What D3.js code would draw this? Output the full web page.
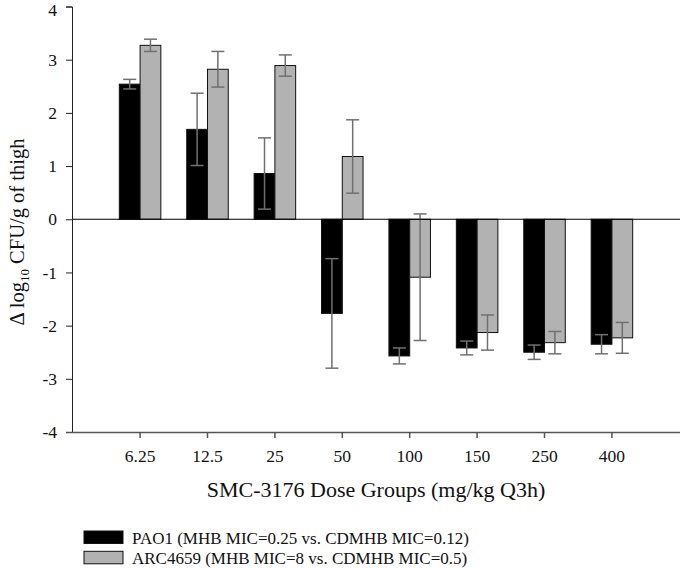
<!DOCTYPE html>
<html><head><meta charset="utf-8">
<script src="https://cdn.jsdelivr.net/npm/d3@7"></script>
<style>body{margin:0;background:#fff}svg{display:block}text{font-family:"Liberation Serif","Times New Roman",serif}</style>
</head><body><svg id="c" width="680" height="568"></svg>
<script>
const categories = ["6.25","12.5","25","50","100","150","250","400"];
const seriesNames = ["PAO1 (MHB MIC=0.25 vs. CDMHB MIC=0.12)","ARC4659 (MHB MIC=8 vs. CDMHB MIC=0.5)"];
const pao1 = [2.54, 1.69, 0.86, -1.77, -2.57, -2.42, -2.50, -2.35];
const pao1Err = [0.09, 0.68, 0.67, 1.03, 0.15, 0.13, 0.135, 0.18];
const arc = [3.27, 2.82, 2.89, 1.18, -1.09, -2.13, -2.32, -2.23];
const arcErr = [0.115, 0.335, 0.20, 0.69, 1.19, 0.33, 0.21, 0.29];
const yTicks = [-4,-3,-2,-1,0,1,2,3,4];
const colors = ["#000000","#b2b2b2"];

const svg = d3.select("#c");
const x = d3.scaleBand().domain(categories).range([72,680]).paddingInner(0.384).paddingOuter(0.702);
const xs = d3.scaleBand().domain([0,1]).range([0,x.bandwidth()]);
const y = d3.scaleLinear().domain([-4,4]).range([432,6.5]);

const series = [{v:pao1,e:pao1Err},{v:arc,e:arcErr}];
series.forEach((s,si)=>{
  const g = svg.append("g");
  g.selectAll("rect").data(categories).join("rect")
    .attr("x",(c)=>x(c)+xs(si))
    .attr("width",xs.bandwidth())
    .attr("y",(c,i)=>y(Math.max(0,s.v[i])))
    .attr("height",(c,i)=>Math.abs(y(s.v[i])-y(0)))
    .attr("fill",colors[si]).attr("stroke","#111").attr("stroke-width",1);
});
series.forEach((s,si)=>{
  const g = svg.append("g").attr("stroke","#707070").attr("stroke-width",1.5).attr("fill","none");
  categories.forEach((c,i)=>{
    const cx = x(c)+xs(si)+xs.bandwidth()/2;
    const hi = y(s.v[i]+s.e[i]), lo = y(s.v[i]-s.e[i]);
    g.append("line").attr("x1",cx).attr("x2",cx).attr("y1",hi).attr("y2",lo);
    g.append("line").attr("x1",cx-6.5).attr("x2",cx+6.5).attr("y1",hi).attr("y2",hi);
    g.append("line").attr("x1",cx-6.5).attr("x2",cx+6.5).attr("y1",lo).attr("y2",lo);
  });
});
// zero line
svg.append("line").attr("x1",72).attr("x2",680).attr("y1",y(0)).attr("y2",y(0)).attr("stroke","#000").attr("stroke-width",1.2);

// y axis
const ya = svg.append("g").attr("transform","translate(72,0)")
  .call(d3.axisLeft(y).tickValues(yTicks).tickSizeOuter(0).tickSize(6).tickPadding(9).tickFormat(d=>String(d)));
ya.selectAll("text").attr("font-size",17.5).attr("font-family","Liberation Serif").attr("fill","#111");
ya.selectAll("text").filter(d=>d===4).attr("dy","0.5em");
ya.selectAll("line,path").attr("stroke","#222");

// x axis
const xa = svg.append("g").attr("transform","translate(0,432)")
  .call(d3.axisBottom(x).tickSizeOuter(0).tickSize(6).tickPadding(12));
xa.select(".domain").attr("d","M66,0.5H680");
xa.selectAll("text").attr("font-size",17.5).attr("font-family","Liberation Serif").attr("fill","#111");
xa.selectAll("line,path").attr("stroke","#555").attr("stroke-width",1.5);

// titles
svg.append("text").attr("x",376).attr("y",497).attr("text-anchor","middle").attr("font-size",22).attr("fill","#111")
  .text("SMC-3176 Dose Groups (mg/kg Q3h)");
const yt = svg.append("text").attr("transform","translate(24,232) rotate(-90)").attr("text-anchor","middle").attr("font-size",20.5).attr("fill","#111");
yt.append("tspan").text("\u0394 log");
yt.append("tspan").attr("font-size",13).attr("dy",5).text("10");
yt.append("tspan").attr("dy",-5).text(" CFU/g of thigh");

// legend
seriesNames.forEach((n,i)=>{
  const ly = 531 + i*20.3;
  svg.append("rect").attr("x",84).attr("y",ly).attr("width",39).attr("height",12.5).attr("fill",colors[i]).attr("stroke","#111").attr("stroke-width",1);
  svg.append("text").attr("x",132).attr("y",ly+12.5).attr("font-size",17).attr("fill","#111").text(n);
});
</script></body></html>
